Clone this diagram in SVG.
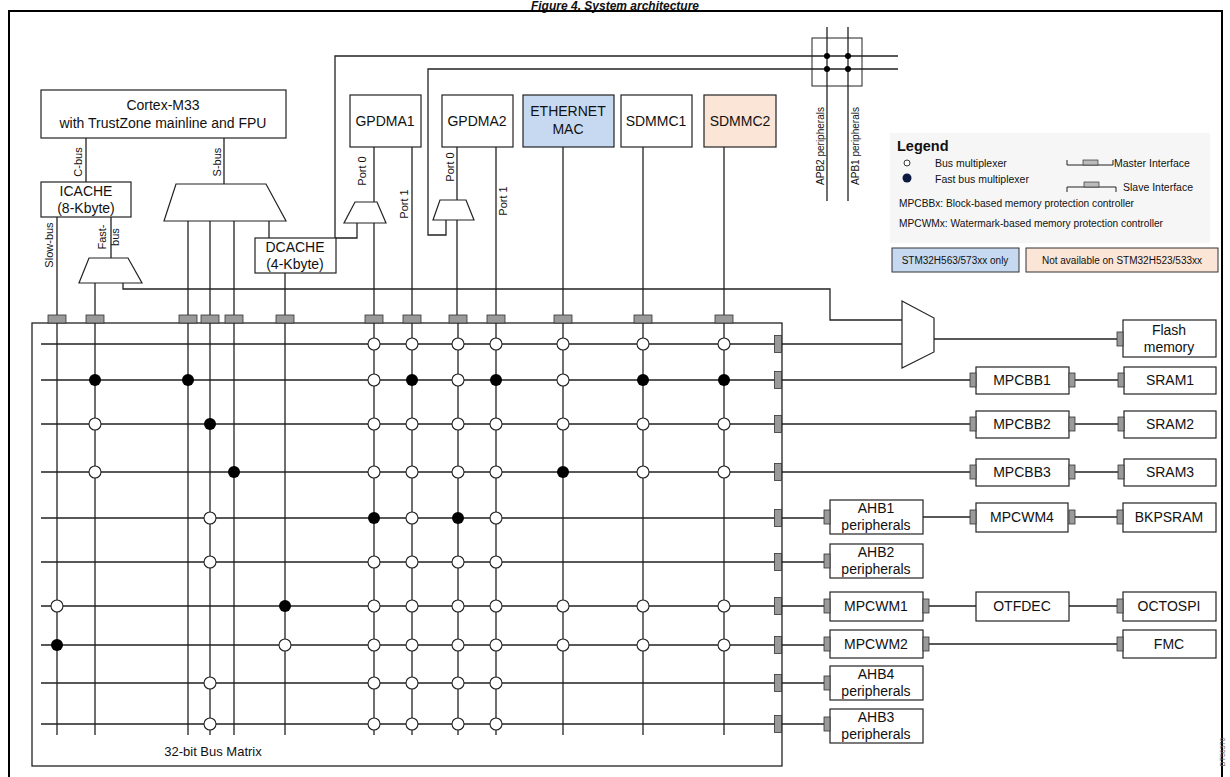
<svg xmlns="http://www.w3.org/2000/svg" width="1230" height="777" viewBox="0 0 1230 777">
<style>
text{font-family:"Liberation Sans",Arial,sans-serif;fill:#111}
.b{fill:#fff;stroke:#222;stroke-width:1.2}
.l{fill:none;stroke:#222;stroke-width:1.3}
.t{fill:#9a9a9a;stroke:#333;stroke-width:0.8}
.o{fill:#fff;stroke:#222;stroke-width:1.1}
.f{fill:#000}
.n{font-size:14px;text-anchor:middle}
.s{font-size:11px;text-anchor:middle}
.g{font-size:10.5px}
</style>
<defs>
<rect id="tt" class="t" x="-9" y="-4" width="18" height="8"/>
<rect id="tv" class="t" x="-3.5" y="-8.5" width="7" height="17"/>
<rect id="ts" class="t" x="-3" y="-7" width="6" height="14"/>
<circle id="oc" class="o" r="6"/>
<circle id="fc" class="f" r="6"/>
</defs>
<text x="615" y="9.5" font-size="12" font-weight="bold" font-style="italic" text-anchor="middle">Figure 4. System architecture</text>
<rect x="9" y="11" width="1213" height="790" fill="none" stroke="#000" stroke-width="2"/>

<g id="connectors">
<path class="l" d="M86 138V182M57 217V315M111 217V258M95 283V315M123 283V289H830V320H902"/>
<path class="l" d="M224 138V184M188 221V315M210 221V315M234 221V315M269 221V238M285 273V315"/>
<path class="l" d="M374 147V202M374 223V315M357 223V238H335V56H898M412 147V315"/>
<path class="l" d="M457 147V200M457 220V315M446 220V235H428V69H898M496 147V315"/>
<path class="l" d="M563 147V315M643 147V315M724 147V315M827 27V201M848 27V201"/>
<circle cx="827" cy="56" r="3"/><circle cx="848" cy="56" r="3"/><circle cx="827" cy="69" r="3"/><circle cx="848" cy="69" r="3"/>
<rect x="812" y="38" width="50" height="48" fill="none" stroke="#222" stroke-width="1"/>
<path class="l" d="M57 323V735M95 323V735M188 323V735M210 323V735M234 323V735M285 323V735M374 323V735M412 323V735M458 323V735M496 323V735M563 323V735M643 323V735M724 323V735"/>
<path class="l" d="M41 344H902M41 380H970M41 424H970M41 472H970M41 518H824M41 562H824M41 606H824M41 645H824M41 683H824M41 724H824"/>
<path class="l" d="M934 339H1117M1075 380H1118M1075 424H1118M1075 472H1118M923 517H970M1075 517H1118M929 606H976M1069 606H1118M929 644H1118"/>
</g>

<g id="bus-matrix">
<rect x="32" y="323" width="750" height="443" fill="none" stroke="#222" stroke-width="1.3"/>
<text x="213" y="756" font-size="13" text-anchor="middle">32-bit Bus Matrix</text>
<use href="#tt" x="57" y="319"/><use href="#tt" x="95" y="319"/><use href="#tt" x="188" y="319"/><use href="#tt" x="210" y="319"/><use href="#tt" x="234" y="319"/><use href="#tt" x="285" y="319"/><use href="#tt" x="374" y="319"/><use href="#tt" x="412" y="319"/><use href="#tt" x="458" y="319"/><use href="#tt" x="496" y="319"/><use href="#tt" x="563" y="319"/><use href="#tt" x="643" y="319"/><use href="#tt" x="724" y="319"/>
<use href="#tv" x="778" y="344"/><use href="#tv" x="778" y="380"/><use href="#tv" x="778" y="424"/><use href="#tv" x="778" y="472"/><use href="#tv" x="778" y="518"/><use href="#tv" x="778" y="562"/><use href="#tv" x="778" y="606"/><use href="#tv" x="778" y="645"/><use href="#tv" x="778" y="683"/><use href="#tv" x="778" y="724"/>
<use href="#oc" x="57" y="606"/><use href="#fc" x="57" y="645"/>
<use href="#fc" x="95" y="380"/><use href="#oc" x="95" y="424"/><use href="#oc" x="95" y="472"/>
<use href="#fc" x="188" y="380"/>
<use href="#fc" x="210" y="424"/><use href="#oc" x="210" y="518"/><use href="#oc" x="210" y="562"/><use href="#oc" x="210" y="683"/><use href="#oc" x="210" y="724"/>
<use href="#fc" x="234" y="472"/>
<use href="#fc" x="285" y="606"/><use href="#oc" x="285" y="645"/>
<use href="#oc" x="374" y="344"/><use href="#oc" x="374" y="380"/><use href="#oc" x="374" y="424"/><use href="#oc" x="374" y="472"/><use href="#fc" x="374" y="518"/><use href="#oc" x="374" y="562"/><use href="#oc" x="374" y="606"/><use href="#oc" x="374" y="645"/><use href="#oc" x="374" y="683"/><use href="#oc" x="374" y="724"/>
<use href="#oc" x="412" y="344"/><use href="#fc" x="412" y="380"/><use href="#oc" x="412" y="424"/><use href="#oc" x="412" y="472"/><use href="#oc" x="412" y="518"/><use href="#oc" x="412" y="562"/><use href="#oc" x="412" y="606"/><use href="#oc" x="412" y="645"/><use href="#oc" x="412" y="683"/><use href="#oc" x="412" y="724"/>
<use href="#oc" x="458" y="344"/><use href="#oc" x="458" y="380"/><use href="#oc" x="458" y="424"/><use href="#oc" x="458" y="472"/><use href="#fc" x="458" y="518"/><use href="#oc" x="458" y="562"/><use href="#oc" x="458" y="606"/><use href="#oc" x="458" y="645"/><use href="#oc" x="458" y="683"/><use href="#oc" x="458" y="724"/>
<use href="#oc" x="496" y="344"/><use href="#fc" x="496" y="380"/><use href="#oc" x="496" y="424"/><use href="#oc" x="496" y="472"/><use href="#oc" x="496" y="518"/><use href="#oc" x="496" y="562"/><use href="#oc" x="496" y="606"/><use href="#oc" x="496" y="645"/><use href="#oc" x="496" y="683"/><use href="#oc" x="496" y="724"/>
<use href="#oc" x="563" y="344"/><use href="#oc" x="563" y="380"/><use href="#oc" x="563" y="424"/><use href="#fc" x="563" y="472"/><use href="#oc" x="563" y="606"/><use href="#oc" x="563" y="645"/>
<use href="#oc" x="643" y="344"/><use href="#fc" x="643" y="380"/><use href="#oc" x="643" y="424"/><use href="#oc" x="643" y="472"/><use href="#oc" x="643" y="606"/><use href="#oc" x="643" y="645"/>
<use href="#oc" x="724" y="344"/><use href="#fc" x="724" y="380"/><use href="#oc" x="724" y="424"/><use href="#oc" x="724" y="472"/><use href="#oc" x="724" y="606"/><use href="#oc" x="724" y="645"/>
</g>

<g id="cortex"><rect class="b" x="41" y="90" width="245" height="48"/><text class="n" x="163" y="110">Cortex-M33</text><text class="n" x="163" y="128">with TrustZone mainline and FPU</text></g>
<g id="icache"><rect class="b" x="41" y="182" width="90" height="35"/><text class="n" x="86" y="196">ICACHE</text><text class="n" x="86" y="213">(8-Kbyte)</text></g>
<g id="dcache"><rect class="b" x="255" y="238" width="81" height="35"/><text class="n" x="295" y="252">DCACHE</text><text class="n" x="295" y="269">(4-Kbyte)</text></g>
<g id="fast-mux"><polygon class="b" points="89,258 128,258 142,283 79,283"/></g>
<g id="s-mux"><polygon class="b" points="176,184 266,184 286,221 164,221"/></g>
<g id="gpdma1-mux"><polygon class="b" points="355,202 377,202 386,223 344,223"/></g>
<g id="gpdma2-mux"><polygon class="b" points="440,200 466,200 474,220 433,220"/></g>
<g id="flash-mux"><polygon class="b" points="902,301 934,318 934,352 902,368"/></g>
<g id="labels">
<text class="s" transform="translate(82,162) rotate(-90)">C-bus</text>
<text class="s" transform="translate(221,162) rotate(-90)">S-bus</text>
<text class="s" transform="translate(53,245) rotate(-90)">Slow-bus</text>
<text class="s" transform="translate(106,237) rotate(-90)">Fast-</text>
<text class="s" transform="translate(119,237) rotate(-90)">bus</text>
<text class="s" transform="translate(366,171) rotate(-90)">Port 0</text>
<text class="s" transform="translate(408,204) rotate(-90)">Port 1</text>
<text class="s" transform="translate(454,167) rotate(-90)">Port 0</text>
<text class="s" transform="translate(507,201) rotate(-90)">Port 1</text>
<text class="s" transform="translate(824,146) rotate(-90)" style="font-size:10px">APB2 peripherals</text>
<text class="s" transform="translate(859,146) rotate(-90)" style="font-size:10px">APB1 peripherals</text>
</g>
<g id="gpdma1"><rect class="b" x="350" y="95" width="71" height="52"/><text class="n" x="385" y="126">GPDMA1</text></g>
<g id="gpdma2"><rect class="b" x="442" y="95" width="71" height="52"/><text class="n" x="477" y="126">GPDMA2</text></g>
<g id="ethernet"><rect class="b" x="523" y="95" width="91" height="52" style="fill:#c6d9f0"/><text class="n" x="568" y="116">ETHERNET</text><text class="n" x="568" y="134">MAC</text></g>
<g id="sdmmc1"><rect class="b" x="621" y="95" width="71" height="52"/><text class="n" x="656" y="126">SDMMC1</text></g>
<g id="sdmmc2"><rect class="b" x="704" y="95" width="72" height="52" style="fill:#fbe5d6"/><text class="n" x="740" y="126">SDMMC2</text></g>

<g id="legend">
<rect x="890" y="133" width="320" height="110" fill="#f6f6f6"/>
<text x="897" y="151" font-size="14.5" font-weight="bold">Legend</text>
<circle cx="907" cy="163" r="3" fill="#fff" stroke="#333"/><text class="g" x="935" y="167">Bus multiplexer</text>
<circle cx="907" cy="178" r="4.5" fill="#0d1a40"/><text class="g" x="935" y="183">Fast bus multiplexer</text>
<path d="M1067 160V165H1113V160" fill="none" stroke="#222"/><rect x="1083" y="160" width="15" height="5" fill="#bbb" stroke="#333" stroke-width="0.7"/><text class="g" x="1114" y="167">Master Interface</text>
<path d="M1067 192V187H1116V192" fill="none" stroke="#222"/><rect x="1084" y="182" width="15" height="5" fill="#bbb" stroke="#333" stroke-width="0.7"/><text class="g" x="1123" y="191">Slave Interface</text>
<text x="899" y="207" font-size="10.2">MPCBBx: Block-based memory protection controller</text>
<text x="899" y="227" font-size="10.2">MPCWMx: Watermark-based memory protection controller</text>
<rect x="892" y="248" width="127" height="24" style="fill:#c6d9f0" stroke="#333"/><text x="955" y="264" font-size="10" text-anchor="middle">STM32H563/573xx only</text>
<rect x="1026" y="248" width="192" height="24" style="fill:#fbe5d6" stroke="#333"/><text x="1122" y="264" font-size="10" text-anchor="middle">Not available on STM32H523/533xx</text>
</g>

<g id="flash"><rect class="b" x="1123" y="320" width="93" height="37"/><use href="#ts" x="1120" y="339"/><text class="n" x="1169" y="335">Flash</text><text class="n" x="1169" y="352">memory</text></g>
<g id="mpcbb1"><rect class="b" x="976" y="367" width="93" height="27"/><use href="#ts" x="973" y="380"/><use href="#ts" x="1072" y="380"/><text class="n" x="1022" y="385">MPCBB1</text></g>
<g id="sram1"><rect class="b" x="1124" y="367" width="92" height="27"/><use href="#ts" x="1121" y="380"/><text class="n" x="1170" y="385">SRAM1</text></g>
<g id="mpcbb2"><rect class="b" x="976" y="411" width="93" height="27"/><use href="#ts" x="973" y="424"/><use href="#ts" x="1072" y="424"/><text class="n" x="1022" y="429">MPCBB2</text></g>
<g id="sram2"><rect class="b" x="1124" y="411" width="92" height="27"/><use href="#ts" x="1121" y="424"/><text class="n" x="1170" y="429">SRAM2</text></g>
<g id="mpcbb3"><rect class="b" x="976" y="459" width="93" height="27"/><use href="#ts" x="973" y="472"/><use href="#ts" x="1072" y="472"/><text class="n" x="1022" y="477">MPCBB3</text></g>
<g id="sram3"><rect class="b" x="1124" y="459" width="92" height="27"/><use href="#ts" x="1121" y="472"/><text class="n" x="1170" y="477">SRAM3</text></g>
<g id="ahb1"><rect class="b" x="830" y="500" width="93" height="34"/><use href="#ts" x="827" y="517"/><text class="n" x="876" y="513">AHB1</text><text class="n" x="876" y="530">peripherals</text></g>
<g id="mpcwm4"><rect class="b" x="976" y="503" width="92" height="29"/><use href="#ts" x="973" y="517"/><use href="#ts" x="1072" y="517"/><text class="n" x="1022" y="522">MPCWM4</text></g>
<g id="bkpsram"><rect class="b" x="1123" y="503" width="93" height="29"/><use href="#ts" x="1120" y="517"/><text class="n" x="1169" y="522">BKPSRAM</text></g>
<g id="ahb2"><rect class="b" x="830" y="544" width="93" height="34"/><use href="#ts" x="827" y="561"/><text class="n" x="876" y="557">AHB2</text><text class="n" x="876" y="574">peripherals</text></g>
<g id="mpcwm1"><rect class="b" x="830" y="592" width="93" height="29"/><use href="#ts" x="827" y="606"/><use href="#ts" x="926" y="606"/><text class="n" x="876" y="611">MPCWM1</text></g>
<g id="otfdec"><rect class="b" x="976" y="592" width="93" height="29"/><text class="n" x="1022" y="611">OTFDEC</text></g>
<g id="octospi"><rect class="b" x="1123" y="592" width="93" height="29"/><use href="#ts" x="1120" y="606"/><text class="n" x="1169" y="611">OCTOSPI</text></g>
<g id="mpcwm2"><rect class="b" x="830" y="630" width="93" height="28"/><use href="#ts" x="827" y="644"/><use href="#ts" x="926" y="644"/><text class="n" x="876" y="649">MPCWM2</text></g>
<g id="fmc"><rect class="b" x="1123" y="630" width="93" height="28"/><use href="#ts" x="1120" y="644"/><text class="n" x="1169" y="649">FMC</text></g>
<g id="ahb4"><rect class="b" x="830" y="666" width="93" height="34"/><use href="#ts" x="827" y="683"/><text class="n" x="876" y="679">AHB4</text><text class="n" x="876" y="696">peripherals</text></g>
<g id="ahb3"><rect class="b" x="830" y="709" width="93" height="34"/><use href="#ts" x="827" y="724"/><text class="n" x="876" y="722">AHB3</text><text class="n" x="876" y="739">peripherals</text></g>
<text transform="translate(1225,752) rotate(-90)" font-size="7" text-anchor="middle" style="fill:#666">DT56370</text>
</svg>
